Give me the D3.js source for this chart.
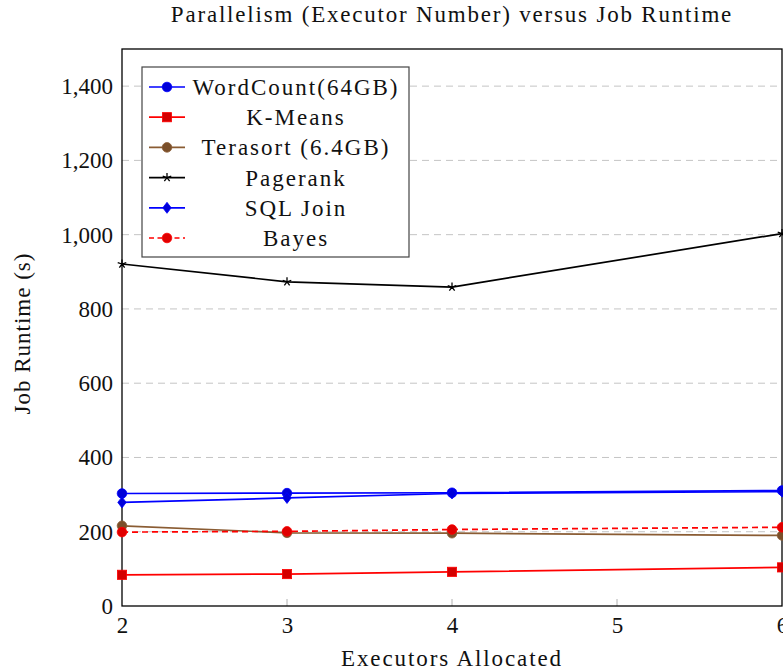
<!DOCTYPE html>
<html>
<head>
<meta charset="utf-8">
<script src="https://cdn.jsdelivr.net/npm/d3@7"></script>
<style>
  html, body { margin: 0; padding: 0; background: #fff; }
  svg { display: block; font-family: "Liberation Serif", "DejaVu Serif", serif; }
</style>
</head>
<body>
<svg id="chart" width="783" height="672"></svg>
<script>
// Executors allocated (x) and runtime in seconds for each workload
const executors = [2, 3, 4, 6];
const wordCount = [303, 304, 305, 311];
const kMeans    = [84, 86, 92, 104];
const terasort  = [216, 197, 196, 190];
const pagerank  = [921, 873, 859, 1003];
const sqlJoin   = [279, 291, 303, 308];
const bayes     = [199, 201, 206, 212];

const xTicks = [2, 3, 4, 5, 6];
const yTicks = [0, 200, 400, 600, 800, 1000, 1200, 1400];
const seriesNames = ["WordCount(64GB)", "K-Means", "Terasort (6.4GB)", "Pagerank", "SQL Join", "Bayes"];

const series = [
  { name: seriesNames[0], values: wordCount, stroke: "#0000ff", fill: "#0000d9", mark: "circle", dash: null },
  { name: seriesNames[1], values: kMeans,    stroke: "#ff0000", fill: "#d40000", mark: "square", dash: null },
  { name: seriesNames[2], values: terasort,  stroke: "#8a5c33", fill: "#7a4f2a", mark: "circle", dash: null },
  { name: seriesNames[3], values: pagerank,  stroke: "#000000", fill: "#000000", mark: "star",   dash: null },
  { name: seriesNames[4], values: sqlJoin,   stroke: "#0000ff", fill: "#0000d9", mark: "diamond", dash: null },
  { name: seriesNames[5], values: bayes,     stroke: "#ff0000", fill: "#e00000", mark: "circle", dash: "6,4" }
];

const svg = d3.select("#chart");
const plotL = 122, plotR = 782, plotT = 49, plotB = 606;

const x = d3.scaleLinear().domain([2, 6]).range([plotL, plotR]);
const y = d3.scaleLinear().domain([0, 1500]).range([plotB, plotT]);

// dashed horizontal grid
svg.append("g")
  .selectAll("line")
  .data(yTicks.filter(d => d > 0))
  .join("line")
  .attr("x1", plotL).attr("x2", plotR)
  .attr("y1", d => y(d)).attr("y2", d => y(d))
  .attr("stroke", "#c4c4c4").attr("stroke-width", 1)
  .attr("stroke-dasharray", "7,5");

// inner tick marks on the bottom axis
svg.append("g")
  .selectAll("line")
  .data(xTicks.slice(1, -1))
  .join("line")
  .attr("x1", d => x(d)).attr("x2", d => x(d))
  .attr("y1", plotB).attr("y2", plotB - 7)
  .attr("stroke", "#b0b0b0").attr("stroke-width", 1);

// axes (labels only, frame drawn separately)
const xAxis = d3.axisBottom(x).tickValues(xTicks).tickSize(0).tickPadding(11).tickFormat(d3.format("d"));
const yAxis = d3.axisLeft(y).tickValues(yTicks).tickSize(0).tickPadding(9).tickFormat(d3.format(","));

const gx = svg.append("g").attr("transform", `translate(0,${plotB})`).call(xAxis);
const gy = svg.append("g").attr("transform", `translate(${plotL},0)`).call(yAxis);
[gx, gy].forEach(g => {
  g.select(".domain").remove();
  g.selectAll("text").attr("font-size", 23).attr("fill", "#111")
    .attr("font-family", "Liberation Serif, serif");
});

// plot frame
svg.append("rect")
  .attr("x", plotL).attr("y", plotT)
  .attr("width", plotR - plotL).attr("height", plotB - plotT)
  .attr("fill", "none").attr("stroke", "#000").attr("stroke-width", 1.3);

// marker shapes
function drawMark(g, s, cx, cy) {
  if (s.mark === "circle") {
    g.append("circle").attr("cx", cx).attr("cy", cy).attr("r", 4.8)
      .attr("fill", s.fill).attr("stroke", s.stroke).attr("stroke-width", 0.8);
  } else if (s.mark === "square") {
    g.append("rect").attr("x", cx - 4.6).attr("y", cy - 4.6).attr("width", 9.2).attr("height", 9.2)
      .attr("fill", s.fill).attr("stroke", s.stroke).attr("stroke-width", 0.8);
  } else if (s.mark === "diamond") {
    g.append("path")
      .attr("d", `M${cx},${cy - 5.5}L${cx + 4.2},${cy}L${cx},${cy + 5.5}L${cx - 4.2},${cy}Z`)
      .attr("fill", s.fill).attr("stroke", s.stroke).attr("stroke-width", 0.8);
  } else if (s.mark === "star") {
    let d = "";
    for (let k = 0; k < 5; k++) {
      const a = -Math.PI / 2 + k * 2 * Math.PI / 5;
      d += `M${cx},${cy}L${cx + 4.5 * Math.cos(a)},${cy + 4.5 * Math.sin(a)}`;
    }
    g.append("path").attr("d", d).attr("stroke", s.stroke).attr("stroke-width", 1.3).attr("fill", "none");
  }
}

const line = d3.line().x((d, i) => x(executors[i])).y(d => y(d));

series.forEach(s => {
  const g = svg.append("g");
  g.append("path")
    .datum(s.values)
    .attr("d", line)
    .attr("fill", "none")
    .attr("stroke", s.stroke)
    .attr("stroke-width", 1.7)
    .attr("stroke-dasharray", s.dash);
  s.values.forEach((v, i) => drawMark(g, s, x(executors[i]), y(v)));
});

// legend
const legend = svg.append("g");
const lgX = 142, lgY = 67, lgW = 267, lgH = 190, rowH = 30.2;
legend.append("rect")
  .attr("x", lgX).attr("y", lgY).attr("width", lgW).attr("height", lgH)
  .attr("fill", "#fff").attr("stroke", "#444").attr("stroke-width", 1.2);
series.forEach((s, i) => {
  const cy = lgY + 20 + i * rowH;
  const g = legend.append("g");
  g.append("line")
    .attr("x1", lgX + 7).attr("x2", lgX + 43)
    .attr("y1", cy).attr("y2", cy)
    .attr("stroke", s.stroke).attr("stroke-width", 1.7)
    .attr("stroke-dasharray", s.dash ? "5,3.5" : null);
  drawMark(g, s, lgX + 25, cy);
  g.append("text")
    .attr("x", 296).attr("y", cy)
    .attr("dy", "0.35em")
    .attr("text-anchor", "middle")
    .attr("font-size", 23)
    .attr("letter-spacing", 2)
    .attr("fill", "#111")
    .text(s.name);
});

// title and axis labels
svg.append("text")
  .attr("x", 452).attr("y", 22)
  .attr("text-anchor", "middle")
  .attr("font-size", 23)
  .attr("letter-spacing", 1.8)
  .attr("fill", "#111")
  .text("Parallelism (Executor Number) versus Job Runtime");

svg.append("text")
  .attr("x", 452).attr("y", 666)
  .attr("text-anchor", "middle")
  .attr("font-size", 23)
  .attr("letter-spacing", 1.9)
  .attr("fill", "#111")
  .text("Executors Allocated");

svg.append("text")
  .attr("transform", `translate(30,${(plotT + plotB) / 2 + 6}) rotate(-90)`)
  .attr("text-anchor", "middle")
  .attr("font-size", 23)
  .attr("letter-spacing", 1)
  .attr("fill", "#111")
  .text("Job Runtime (s)");
</script>
</body>
</html>
